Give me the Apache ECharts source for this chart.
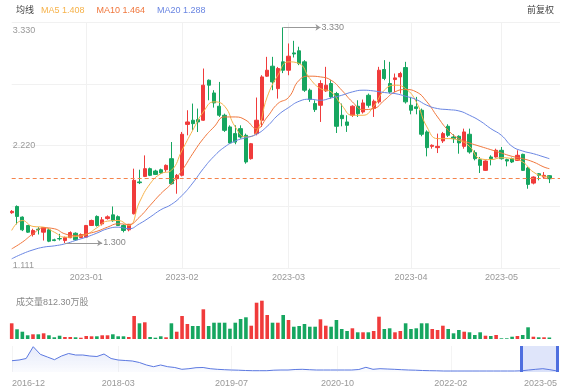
<!DOCTYPE html>
<html><head><meta charset="utf-8">
<script src="https://cdn.jsdelivr.net/npm/echarts@6/dist/echarts.min.js"></script>
<style>html,body{margin:0;padding:0;background:#fff}#c{width:568px;height:392px}</style>
</head><body><div id="c"></div>
<script>
// ---- data ----
const dates = [
'2022-12-09','2022-12-12','2022-12-13','2022-12-14','2022-12-15','2022-12-16','2022-12-19','2022-12-20','2022-12-21','2022-12-22','2022-12-23','2022-12-28','2022-12-29','2022-12-30',
'2023-01-03','2023-01-04','2023-01-05','2023-01-06','2023-01-09','2023-01-10','2023-01-11','2023-01-12','2023-01-13','2023-01-16','2023-01-17','2023-01-18','2023-01-19','2023-01-20','2023-01-26','2023-01-27','2023-01-30','2023-01-31',
'2023-02-01','2023-02-02','2023-02-03','2023-02-06','2023-02-07','2023-02-08','2023-02-09','2023-02-10','2023-02-13','2023-02-14','2023-02-15','2023-02-16','2023-02-17','2023-02-20','2023-02-21','2023-02-22','2023-02-23','2023-02-24','2023-02-27','2023-02-28',
'2023-03-01','2023-03-02','2023-03-03','2023-03-06','2023-03-07','2023-03-08','2023-03-09','2023-03-10','2023-03-13','2023-03-14','2023-03-15','2023-03-16','2023-03-17','2023-03-20','2023-03-21','2023-03-22','2023-03-23','2023-03-24','2023-03-27','2023-03-28','2023-03-29','2023-03-30','2023-03-31',
'2023-04-03','2023-04-04','2023-04-06','2023-04-11','2023-04-12','2023-04-13','2023-04-14','2023-04-17','2023-04-18','2023-04-19','2023-04-20','2023-04-21','2023-04-24','2023-04-25','2023-04-26','2023-04-27','2023-04-28',
'2023-05-02','2023-05-03','2023-05-04','2023-05-05','2023-05-08','2023-05-09','2023-05-10','2023-05-11','2023-05-12','2023-05-15'
];
const opens = [
1.585,1.644,1.544,1.465,1.380,1.430,1.402,1.424,1.330,1.342,
1.323,1.350,1.392,1.352,1.355,1.465,1.550,1.480,1.530,1.565,
1.548,1.465,1.424,1.575,1.875,1.927,2.000,1.978,1.990,1.990,
2.094,1.906,1.937,2.417,2.456,2.462,2.456,2.833,2.713,2.588,
2.503,2.393,2.330,2.377,2.314,2.094,2.330,2.456,2.871,2.965,
2.754,3.006,2.927,3.090,3.110,3.006,2.739,2.613,2.597,2.732,
2.802,2.707,2.503,2.440,2.503,2.588,2.534,2.691,2.566,2.629,
2.934,2.802,2.839,2.864,2.952,2.597,2.582,2.550,2.346,2.210,
2.198,2.261,2.399,2.298,2.305,2.210,2.324,2.151,2.085,1.984,
2.110,2.110,2.173,2.085,2.094,2.078,2.135,2.006,1.864,1.952,
1.921,1.934];
const closes = [
1.598,1.550,1.424,1.402,1.418,1.425,1.443,1.317,1.323,1.339,
1.352,1.398,1.330,1.380,1.465,1.512,1.465,1.518,1.546,1.510,
1.465,1.418,1.475,1.890,1.868,2.000,1.937,1.946,1.960,2.031,
1.858,1.937,2.324,2.440,2.424,2.440,2.786,2.786,2.619,2.503,
2.361,2.242,2.250,2.298,2.063,2.235,2.456,2.864,2.927,2.817,
2.943,2.927,3.059,3.080,2.990,2.739,2.651,2.556,2.802,2.786,
2.676,2.399,2.471,2.408,2.588,2.518,2.619,2.597,2.635,2.927,
2.849,2.723,2.855,2.896,2.629,2.550,2.566,2.324,2.198,2.220,
2.210,2.330,2.314,2.283,2.242,2.346,2.157,2.094,2.031,2.072,
2.094,2.173,2.094,2.072,2.063,2.126,1.984,1.852,1.921,1.937,
1.937,1.905];
const lows = [
1.575,1.475,1.412,1.395,1.361,1.380,1.323,1.308,1.317,1.323,
1.300,1.345,1.320,1.345,1.350,1.460,1.455,1.465,1.520,1.500,
1.460,1.400,1.410,1.569,1.855,1.921,1.930,1.940,1.950,1.970,
1.850,1.764,1.927,2.314,2.361,2.345,2.450,2.644,2.575,2.487,
2.346,2.236,2.230,2.283,2.047,2.085,2.314,2.393,2.864,2.739,
2.660,2.900,2.880,3.047,2.975,2.723,2.629,2.534,2.440,2.723,
2.660,2.336,2.399,2.346,2.487,2.487,2.519,2.575,2.487,2.613,
2.833,2.707,2.723,2.707,2.613,2.512,2.512,2.305,2.116,2.188,
2.147,2.242,2.298,2.242,2.141,2.188,2.141,2.078,1.959,1.978,
2.031,2.104,2.085,2.022,2.053,2.072,1.978,1.811,1.852,1.890,
1.905,1.864];
const highs = [
1.610,1.654,1.550,1.470,1.434,1.449,1.449,1.437,1.340,1.386,
1.360,1.410,1.400,1.390,1.470,1.520,1.560,1.544,1.560,1.644,
1.560,1.475,1.480,2.000,1.990,2.125,2.010,1.990,2.000,2.040,
2.251,1.950,2.346,2.550,2.613,2.566,2.943,2.840,2.739,2.817,
2.518,2.408,2.408,2.408,2.330,2.242,2.670,2.880,3.053,3.053,
2.958,3.330,3.179,3.204,3.148,3.022,2.754,2.644,2.833,2.959,
2.833,2.723,2.613,2.503,2.597,2.644,2.651,2.707,2.651,2.959,
3.022,3.006,2.896,2.912,3.006,2.676,2.676,2.566,2.361,2.229,
2.330,2.346,2.418,2.324,2.314,2.377,2.377,2.173,2.110,2.078,
2.126,2.188,2.204,2.094,2.104,2.173,2.141,2.015,1.927,1.959,
1.968,1.937];
// volume, 万股
const volumes = [
8480,5240,3940,2000,2540,2540,3080,2000,920,1780,
1080,1080,920,700,1620,1460,1460,2000,2000,2540,
1460,1460,1080,12420,8480,9020,1080,700,1460,920,
8480,3940,12420,8100,7020,7020,16040,7020,8800,8800,
8800,5560,8800,10800,11720,7180,19600,20680,12960,8800,
8800,12960,10260,6640,7020,8100,6640,6640,10640,7180,
6640,10260,5400,4320,5780,3620,3620,3620,4320,12040,
5400,5780,3620,4320,8480,5400,5780,8480,8480,5400,
4860,7180,5400,3080,4860,3940,3620,2160,3620,1780,
1620,2160,380,380,1240,1620,2160,6320,1240,920,
920,812.30];
// moving averages at these candle indexes
const maIdx = [0,2,4,6,8,10,12,14,16,18,20,22,24,26,28,30,32,34,36,38,40,42,44,46,48,50,
               52,54,56,58,60,62,64,66,68,70,72,74,76,78,80,82,84,86,88,90,92,94,96,98,100,101];
const ma5 = [1.418,1.512,1.456,1.449,1.402,1.355,1.361,1.380,1.443,1.506,1.512,1.465,1.685,1.858,1.952,1.984,2.173,2.361,2.534,2.629,2.588,2.393,2.298,2.346,2.676,2.880,
             3.006,2.990,2.849,2.754,2.723,2.597,2.503,2.503,2.588,2.739,2.786,2.754,2.629,2.393,2.283,2.283,2.267,2.210,2.094,2.085,2.103,2.094,2.063,1.968,1.927,1.921];
const ma10 = [1.245,1.308,1.386,1.443,1.434,1.386,1.371,1.386,1.410,1.449,1.481,1.475,1.544,1.654,1.764,1.858,1.984,2.141,2.283,2.393,2.487,2.487,2.456,2.377,2.487,2.613,
              2.670,2.833,2.871,2.864,2.833,2.739,2.629,2.556,2.566,2.644,2.723,2.745,2.723,2.629,2.487,2.361,2.283,2.242,2.210,2.179,2.147,2.116,2.094,2.063,2.015,2.000];
const ma20 = [1.151,1.198,1.235,1.261,1.273,1.292,1.324,1.355,1.393,1.434,1.449,1.434,1.481,1.544,1.613,1.663,1.748,1.864,2.000,2.116,2.204,2.261,2.292,2.324,2.399,2.503,
              2.575,2.635,2.654,2.644,2.666,2.691,2.723,2.739,2.732,2.717,2.707,2.682,2.651,2.597,2.566,2.556,2.544,2.503,2.449,2.377,2.314,2.210,2.166,2.141,2.110,2.094];
const maLegend = ['1.408','1.464','1.288'];
const yLabelValues = [1.111, 2.2205, 3.330];
const yLabelTexts = ['1.111', '2.220', '3.330'];
// overview (whole history, one reading per month)
const ovMonths = [];
for (let y = 2016, m = 12; y < 2023 || (y === 2023 && m <= 5); ) {
  ovMonths.push(y + '-' + (m < 10 ? '0' + m : m));
  m++; if (m > 12) { m = 1; y++; }
}
const ovValues = [
5.65,6.0,6.75,12.65,8.85,7.5,6.15,8.0,9.25,8.5,
8.5,8.0,7.75,9.0,6.75,6.0,5.75,5.5,4.75,3.5,
2.65,3.5,2.65,2.25,1.35,1.65,2.15,2.25,1.65,1.35,
1.15,1.0,0.9,0.75,0.65,0.65,0.65,0.9,1.0,1.0,
1.25,1.35,1.15,1.0,1.0,1.0,1.0,1.0,1.0,1.25,
2.35,1.35,1.65,1.5,1.35,1.15,1.0,0.9,0.75,0.65,
0.6,0.5,0.5,0.5,0.5,0.5,0.5,0.5,0.5,0.5,
0.5,0.5,0.6,1.0,1.35,1.65,1.15,0.5];
const ovTickLabels = ['2016-12','2018-03','2019-07','2020-10','2022-02','2023-05'];
const ovWindow = ['2022-12','2023-05'];

// ---- style ----
const FONT = '"Liberation Sans","Noto Sans CJK SC",sans-serif';
const UP = '#f03b3b', DOWN = '#16a660';
const C5 = '#f6b24a', C10 = '#f0773d', C20 = '#6a86e2';
const yMid = 2.2205, yStep = 0.578;
const yMin = yMid - 2 * yStep, yMax = yMid + 2 * yStep;
const last = closes.length - 1;
const hiIdx = highs.indexOf(Math.max(...highs));
const loIdx = lows.indexOf(Math.min(...lows));
const TAG = 7;
const monthStart = (i) => i === 0 ? false : (dates[i] !== undefined && dates[i - 1] !== undefined && dates[i].slice(0, 7) !== dates[i - 1].slice(0, 7));

const chart = echarts.init(document.getElementById('c'));
chart.setOption({
  animation: false,
  textStyle: { fontFamily: FONT },
  title: [
    { left: 11, top: 1, text: '{t|均线}{a|MA5 ' + maLegend[0] + '}{b|MA10 ' + maLegend[1] + '}{c|MA20 ' + maLegend[2] + '}',
      textStyle: { fontSize: 9, fontWeight: 'normal', fontFamily: FONT,
        rich: {
          t: { color: '#444', fontSize: 9, fontFamily: FONT, padding: [0, 7, 0, 0] },
          a: { color: C5, fontSize: 9, fontFamily: FONT, padding: [0, 12, 0, 0] },
          b: { color: C10, fontSize: 9, fontFamily: FONT, padding: [0, 12, 0, 0] },
          c: { color: C20, fontSize: 9, fontFamily: FONT }
        } } },
    { right: 9, top: 1, text: '前复权', textStyle: { fontSize: 9, fontWeight: 'normal', color: '#444', fontFamily: FONT } },
    { left: 11, top: 293, text: '成交量' + volumes[last].toFixed(2) + '万股', textStyle: { fontSize: 9, fontWeight: 'normal', color: '#888', fontFamily: FONT } }
  ],
  grid: [
    { left: 11.7, right: 8, top: 22.5, height: 245.5 },
    { left: 11.7, right: 8, top: 300, height: 39 },
    { left: 12, right: 11, top: 346, height: 26 }
  ],
  xAxis: [
    { type: 'category', gridIndex: 0, data: dates, boundaryGap: false, max: 103,
      axisLine: { show: false }, axisTick: { show: false },
      axisLabel: { color: '#999', fontSize: 9, margin: 5, fontFamily: FONT,
        interval: (i) => monthStart(i), formatter: (v) => v ? v.slice(0, 7) : '' },
      splitLine: { show: true, interval: (i) => monthStart(i), lineStyle: { color: '#f1f1f1' } } },
    { type: 'category', gridIndex: 1, data: dates, boundaryGap: false, max: 103,
      axisLine: { show: false }, axisTick: { show: false }, axisLabel: { show: false }, splitLine: { show: false } },
    { type: 'category', gridIndex: 2, data: ovMonths, boundaryGap: false,
      axisLine: { show: false }, axisTick: { show: false },
      axisLabel: { color: '#999', fontSize: 9, margin: 7, fontFamily: FONT,
        alignMinLabel: 'left', alignMaxLabel: 'right',
        interval: (i) => ovTickLabels.indexOf(ovMonths[i]) >= 0 },
      splitLine: { show: true, interval: (i) => ovTickLabels.indexOf(ovMonths[i]) >= 0, lineStyle: { color: '#f4f4f4' } } }
  ],
  yAxis: [
    { type: 'value', gridIndex: 0, min: yMin, max: yMax, interval: yStep,
      axisLine: { show: false }, axisTick: { show: false },
      splitLine: { lineStyle: { color: '#f1f1f1' } },
      axisLabel: { inside: true, margin: 1, color: '#999', fontSize: 9, fontFamily: FONT,
        customValues: yLabelValues,
        formatter: (v) => {
          const i = yLabelValues.findIndex(x => Math.abs(x - v) < 1e-6);
          if (i < 0) return '';
          const key = i === 0 ? 'lo' : (i === 2 ? 'hi' : 'mid');
          return '{' + key + '|' + yLabelTexts[i] + '}';
        },
        rich: {
          lo: { color: '#999', fontSize: 9, fontFamily: FONT, padding: [5, 0, 0, 0] },
          mid: { color: '#999', fontSize: 9, fontFamily: FONT },
          hi: { color: '#999', fontSize: 9, fontFamily: FONT, padding: [7, 0, 0, 0] }
        } } },
    { type: 'value', gridIndex: 1, min: 0, max: 21060, show: false },
    { type: 'value', gridIndex: 2, min: 0, max: 13, show: false }
  ],
  series: [
    { type: 'candlestick', xAxisIndex: 0, yAxisIndex: 0, barWidth: 3.8,
      data: dates.map((d, i) => [opens[i], closes[i], lows[i], highs[i]]),
      itemStyle: { color: UP, color0: DOWN, borderColor: UP, borderColor0: DOWN, borderWidth: 1 },
      markLine: { silent: true, symbol: ['none', 'none'], animation: false,
        data: [
          { yAxis: closes[last], lineStyle: { type: [4, 3], color: '#f5844c', width: 1 }, label: { show: false } },
          [ { coord: [hiIdx, highs[hiIdx]], symbol: 'none' },
            { coord: [hiIdx + TAG, highs[hiIdx]], symbol: 'arrow', symbolSize: 5,
              lineStyle: { color: '#999', width: 1, type: 'solid' },
              label: { show: true, position: 'end', distance: 1, formatter: highs[hiIdx].toFixed(3), color: '#888', fontSize: 9, fontFamily: FONT } } ],
          [ { coord: [loIdx, lows[loIdx]], symbol: 'none' },
            { coord: [loIdx + TAG, lows[loIdx]], symbol: 'arrow', symbolSize: 5,
              lineStyle: { color: '#999', width: 1, type: 'solid' },
              label: { show: true, position: 'end', distance: 1, formatter: lows[loIdx].toFixed(3), color: '#888', fontSize: 9, fontFamily: FONT } } ]
        ] } },
    { type: 'line', name: 'MA5', xAxisIndex: 0, yAxisIndex: 0, smooth: true, showSymbol: false, connectNulls: true,
      data: maIdx.map((k, j) => [k, ma5[j]]), lineStyle: { color: C5, width: 1 }, itemStyle: { color: C5 } },
    { type: 'line', name: 'MA10', xAxisIndex: 0, yAxisIndex: 0, smooth: true, showSymbol: false, connectNulls: true,
      data: maIdx.map((k, j) => [k, ma10[j]]), lineStyle: { color: C10, width: 1 }, itemStyle: { color: C10 } },
    { type: 'line', name: 'MA20', xAxisIndex: 0, yAxisIndex: 0, smooth: true, showSymbol: false, connectNulls: true,
      data: maIdx.map((k, j) => [k, ma20[j]]), lineStyle: { color: C20, width: 1 }, itemStyle: { color: C20 } },
    { type: 'bar', xAxisIndex: 1, yAxisIndex: 1, barWidth: 3.6, data: volumes,
      itemStyle: { color: (p) => closes[p.dataIndex] >= opens[p.dataIndex] ? UP : DOWN } },
    { type: 'line', xAxisIndex: 2, yAxisIndex: 2, data: ovValues, showSymbol: false,
      lineStyle: { color: '#5b78e0', width: 1 }, itemStyle: { color: '#5b78e0' },
      areaStyle: { color: new echarts.graphic.LinearGradient(0, 0, 0, 1, [
        { offset: 0, color: 'rgba(91,120,224,0.22)' }, { offset: 1, color: 'rgba(91,120,224,0.04)' } ]) },
      markArea: { silent: true, itemStyle: { color: 'rgba(95,125,230,0.2)' },
        data: [[{ xAxis: ovWindow[0] }, { xAxis: ovWindow[1] }]] },
      markLine: { silent: true, symbol: ['none', 'none'], label: { show: false },
        lineStyle: { color: '#4f6fdf', width: 3, type: 'solid' },
        data: [{ xAxis: ovWindow[0] }, { xAxis: ovWindow[1] }] } }
  ]
});
</script></body></html>
